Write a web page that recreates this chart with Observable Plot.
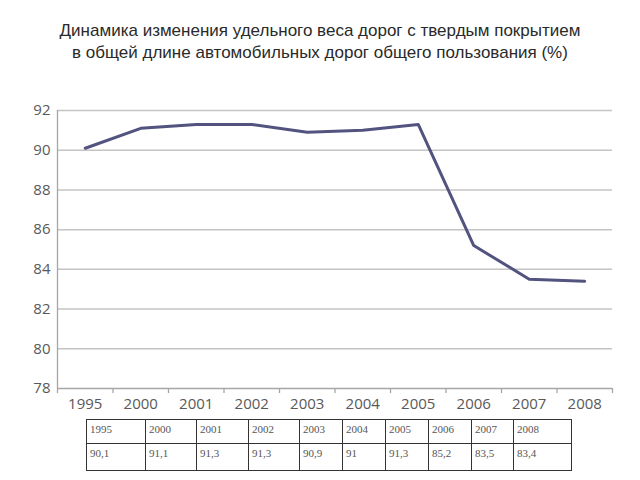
<!DOCTYPE html>
<html>
<head>
<meta charset="utf-8">
<script src="https://cdn.jsdelivr.net/npm/d3@7"></script>
<script src="https://cdn.jsdelivr.net/npm/@observablehq/plot@0.6"></script>
<style>
  body { margin: 0; background: #fff; width: 640px; height: 480px; overflow: hidden; }
  #title { height: 80px; box-sizing: border-box; padding-top: 20px; text-align: center;
    font-family: "Liberation Sans", Arial, sans-serif; font-size: 17px; line-height: 22px; color: #2a2a2a; }
  #chart svg { display: block; }
  #tbl { position: absolute; left: 86px; top: 419px; border-collapse: collapse;
    font-family: "Liberation Serif", "Times New Roman", serif; font-size: 11px; color: #555; }
  #tbl td { border: 1.3px solid #333; vertical-align: top; padding: 3px 3px 0 3px; box-sizing: border-box; }
</style>
</head>
<body>
<div id="title">Динамика изменения удельного веса дорог с твердым покрытием<br>в общей длине автомобильных дорог общего пользования (%)</div>
<div id="chart"></div>
<table id="tbl"></table>
<script>
const years = ["1995", "2000", "2001", "2002", "2003", "2004", "2005", "2006", "2007", "2008"];
const values = [90.1, 91.1, 91.3, 91.3, 90.9, 91.0, 91.3, 85.2, 83.5, 83.4];
const valueLabels = ["90,1", "91,1", "91,3", "91,3", "90,9", "91", "91,3", "85,2", "83,5", "83,4"];
const yTicks = [78, 80, 82, 84, 86, 88, 90, 92];

const data = years.map((y, i) => ({i, year: y, value: values[i]}));
const idx = years.map((_, i) => i);
const bounds = years.map((_, i) => i - 0.5).concat([years.length - 0.5]);

const axisColor = "#595959";
const plot = Plot.plot({
  width: 640,
  height: 338,
  marginTop: 30,
  marginBottom: 30,
  marginLeft: 57,
  marginRight: 28,
  style: {fontFamily: "'Open Sans', sans-serif", background: "#fff"},
  x: {type: "linear", domain: [-0.5, years.length - 0.5], axis: null},
  y: {domain: [78, 92], axis: null},
  marks: [
    Plot.ruleY(yTicks.filter(v => v > 78), {stroke: "#c4c4c4", strokeWidth: 1.5}),
    Plot.ruleY([78], {stroke: "#a6a6a6", strokeWidth: 1.3}),
    Plot.ruleX([-0.5], {y1: 78, y2: 92, stroke: "#a6a6a6", strokeWidth: 1.3}),
    Plot.axisX({ticks: bounds, tickFormat: () => "", tickSize: 5, stroke: "#a6a6a6", strokeWidth: 1.3, label: null}),
    Plot.axisX({ticks: idx, tickFormat: i => years[i], tickSize: 0, tickPadding: 10,
      fontSize: 15, fill: axisColor, label: null}),
    Plot.axisY({ticks: yTicks, tickSize: 0, tickPadding: 7, fontSize: 15, fill: axisColor, label: null}),
    Plot.line(data, {x: "i", y: "value", stroke: "#535380", strokeWidth: 3, strokeLinejoin: "round"})
  ]
});
document.getElementById("chart").appendChild(plot);

// table
const colWidths = [59, 51, 52, 51, 43, 43, 43, 43, 42, 58];
const tbl = document.getElementById("tbl");
[[years, 24], [valueLabels, 27]].forEach(([row, h]) => {
  const tr = document.createElement("tr");
  row.forEach((t, j) => {
    const td = document.createElement("td");
    td.textContent = t;
    td.style.width = colWidths[j] + "px";
    td.style.height = h + "px";
    tr.appendChild(td);
  });
  tbl.appendChild(tr);
});
</script>
</body>
</html>
